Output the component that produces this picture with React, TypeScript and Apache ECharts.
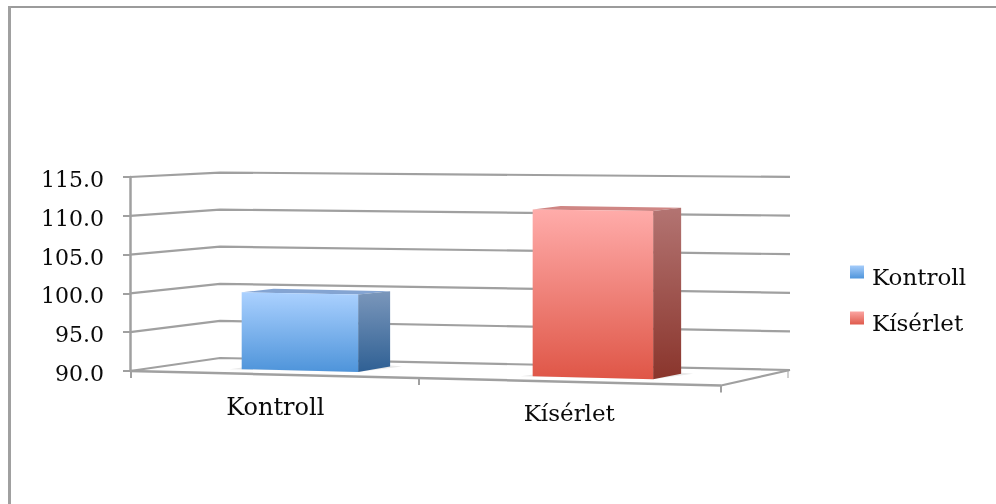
import React, { useEffect, useRef } from "react";
import * as echarts from "echarts";

const categories = ["Kontroll", "Kísérlet"];
const kontrollValues = [100];
const kiserletValues = [111.2];
const tickValues = [90, 95, 100, 105, 110, 115];

const GRID = { left: 130, top: 177, width: 591, height: 194 };
const LINE = "#a0a0a0";
const FONT = "DejaVu Serif";
const TEXT = "#0a0a0a";

const grad = (a: string, b: string) =>
  new echarts.graphic.LinearGradient(0, 0, 0, 1, [
    { offset: 0, color: a },
    { offset: 1, color: b },
  ]);

// Perspective of the floor: front edge and back edge, in pixels relative to the grid.
const frontDrop = (x: number) => (x - 130) * 0.0245;
const wallPoints = (y: number) => {
  const d = 371 - y;
  return [
    [130, y],
    [220, 358 - d * 0.956],
    [790, 370 - d * 0.995],
  ];
};

const renderWallLine = (_: any, api: any) => {
  const y = api.coord([0, api.value(1)])[1];
  return {
    type: "polyline",
    shape: { points: wallPoints(y) },
    style: { stroke: LINE, lineWidth: 2.2, fill: "none" },
    silent: true,
  };
};

const renderFloor = (_: any, api: any) => {
  const y = api.coord([0, tickValues[0]])[1];
  const frontRight: number[] = [721, y + frontDrop(721)];
  const seg = (a: number[], b: number[], w = 2) => ({
    type: "line",
    shape: { x1: a[0], y1: a[1], x2: b[0], y2: b[1] },
    style: { stroke: LINE, lineWidth: w },
  });
  const children = [
    seg([130, y], frontRight, 2.5),
    seg(frontRight, [790, y - 1], 2.2),
    seg([131, y + frontDrop(131)], [131, y + frontDrop(131) + 7], 2),
    seg([419, y + frontDrop(419)], [419, y + frontDrop(419) + 7], 2),
    seg([721, y + frontDrop(721)], [721, y + frontDrop(721) + 7], 2),
    seg([788, y - 1], [788, y + 7], 1),
  ];
  return { type: "group", children, silent: true };
};

const renderBar = (palette: { a: string; b: string; c: string; d: string; top: string }) => (_: any, api: any) => {
  const cat = api.value(0);
  const val = api.value(1);
  const topPt = api.coord([cat, val]);
  const basePt = api.coord([cat, tickValues[0]]);
  const h = basePt[1] - topPt[1];
  const cx0 = topPt[0];
  const band = api.size([1, 0])[0];
  const shift = band * 0.075 - (cx0 - 277) * 0.0085;
  const half = band * 0.197 + (cx0 - 277) * 0.0068;
  const x1 = cx0 + shift - half;
  const x2 = cx0 + shift + half;
  const baseY = (x: number) => basePt[1] + frontDrop(x) - 4.6;
  const k = (x: number) => 0.99 + (x - 242) * 8e-5;
  const topY = (x: number) => baseY(x) - h * k(x);
  const tl = [x1, topY(x1)];
  const tr = [x2, topY(x2)];
  const bl = [x1, baseY(x1)];
  const br = [x2, baseY(x2)];
  const depthX = 32 - (x2 - 358) * 0.0135;
  const btr = [x2 + depthX, tr[1] - 3.3];
  const bbr = [x2 + depthX, br[1] - 5.5];
  const btl = [x1 + depthX, tl[1] - 3.5];
  return {
    type: "group",
    silent: true,
    children: [
      {
        type: "polygon",
        shape: { points: [[bl[0] - 12, bl[1]], br, [bbr[0] + 12, bbr[1]], [bbr[0] - 10, bbr[1] - 2], [bl[0] + 10, bl[1] - 3]] },
        style: { fill: "#e9e9e9" },
      },
      { type: "polygon", shape: { points: [tl, btl, btr, tr] }, style: { fill: palette.top } },
      { type: "polygon", shape: { points: [tr, btr, bbr, br] }, style: { fill: grad(palette.c, palette.d) } },
      { type: "polygon", shape: { points: [tl, tr, br, bl] }, style: { fill: grad(palette.a, palette.b) } },
    ],
  };
};

const blue = { a: "#abd1ff", b: "#4e94da", c: "#7b97bb", d: "#2f6094", top: "#84a4d2" };
const red = { a: "#ffacaa", b: "#df5647", c: "#b37472", d: "#8a352c", top: "#cf8684" };

export default function App() {
  const ref = useRef<HTMLDivElement>(null);
  useEffect(() => {
    const chart = echarts.init(ref.current!, undefined, { renderer: "svg" });
    chart.setOption({
      animation: false,
      backgroundColor: "#ffffff",
      grid: { ...GRID },
      legend: {
        left: 845,
        top: 260,
        orient: "vertical",
        itemWidth: 14,
        itemHeight: 13,
        itemGap: 23,
        icon: "rect",
        selectedMode: false,
        formatter: (n: string) => `{t|${n}}`,
        textStyle: {
          fontFamily: FONT,
          fontSize: 23,
          color: TEXT,
          rich: { t: { fontFamily: FONT, fontSize: 23, color: TEXT, padding: [9, 0, 0, 3] } },
        },
        data: [
          { name: categories[0], itemStyle: { color: grad("#a5ccfa", "#4f95db") } },
          { name: categories[1], itemStyle: { color: grad("#fba5a2", "#df5a4c") } },
        ],
      },
      xAxis: {
        type: "category",
        data: categories,
        axisLine: { show: false },
        axisTick: { show: false },
        axisLabel: {
          margin: 24,
          interval: 0,
          fontFamily: FONT,
          fontSize: 24,
          color: TEXT,
          formatter: (v: string, i: number) => (i === 0 ? `{a|${v}}` : `{b|${v}}`),
          rich: {
            a: { fontFamily: FONT, fontSize: 24, color: TEXT, padding: [0, 5, 0, 0] },
            b: { fontFamily: FONT, fontSize: 23, color: TEXT, padding: [6, 8, 0, 0] },
          },
        },
      },
      yAxis: {
        type: "value",
        min: tickValues[0],
        max: tickValues[tickValues.length - 1],
        interval: 5,
        splitLine: { show: false },
        axisLine: { show: true, lineStyle: { color: LINE, width: 2.5 } },
        axisTick: { show: true, length: 7, lineStyle: { color: LINE, width: 2 } },
        axisLabel: {
          margin: 26,
          fontFamily: FONT,
          fontSize: 22,
          color: TEXT,
          formatter: (v: number) => `{v|${v.toFixed(1)}}`,
          rich: { v: { fontFamily: FONT, fontSize: 22, color: TEXT, padding: [5, 0, 0, 0] } },
        },
      },
      graphic: [
        { type: "rect", shape: { x: 8, y: 6, width: 988, height: 2 }, style: { fill: "#9b9b9b" }, silent: true },
        { type: "rect", shape: { x: 8, y: 6, width: 3, height: 498 }, style: { fill: "#a0a0a0" }, silent: true },
      ],
      series: [
        {
          name: "walls",
          type: "custom",
          renderItem: renderWallLine,
          data: tickValues.map((v) => [0, v]),
          z: 1,
        },
        {
          name: "floor",
          type: "custom",
          renderItem: renderFloor,
          data: [[0, tickValues[0]]],
          z: 1,
        },
        {
          name: categories[0],
          type: "custom",
          renderItem: renderBar(blue),
          data: kontrollValues.map((v) => [0, v]),
          z: 2,
        },
        {
          name: categories[1],
          type: "custom",
          renderItem: renderBar(red),
          data: kiserletValues.map((v) => [1, v]),
          z: 2,
        },
      ],
    });
    return () => chart.dispose();
  }, []);
  return (
    <div
      ref={ref}
      style={{ position: "fixed", left: 0, top: 0, width: 996, height: 504, filter: "blur(0.5px)" }}
    />
  );
}
